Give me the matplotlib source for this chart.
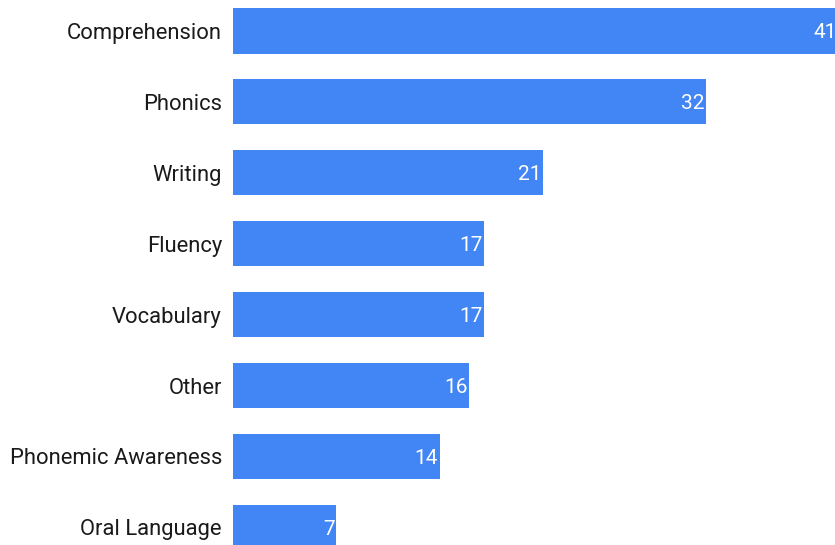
import matplotlib.pyplot as plt

# Topics and counts
topics = ["Comprehension", "Phonics", "Writing", "Fluency", "Vocabulary",
          "Other", "Phonemic Awareness", "Oral Language"]
counts = [41, 32, 21, 17, 17, 16, 14, 7]

bar_color = "#4285F4"
plt.rcParams["font.family"] = ["Roboto", "DejaVu Sans"]

fig = plt.figure(figsize=(8.35, 5.45), dpi=100)
# axes placed so the chart is cropped like the reference
ax = fig.add_axes([233 / 835, 0, 602 / 835, 1])

y = list(range(len(topics)))
ax.barh(y, counts, height=0.635, color=bar_color)

ax.set_xlim(0, 602 / 14.78)
ax.set_ylim((545 - 31) / 70.9, -31 / 70.9)

ax.set_yticks(y)
ax.set_yticklabels(topics, fontsize=15.8, color="#1a1a1a")
ax.tick_params(axis="y", length=0, pad=8)
ax.set_xticks([])
for s in ax.spines.values():
    s.set_visible(False)

# value labels inside bar ends
for i, v in zip(y, counts):
    ax.text(v - 0.12, i, str(v), ha="right", va="center_baseline", color="white",
            fontsize=15, clip_on=False)

fig.savefig("out.png", dpi=100)
